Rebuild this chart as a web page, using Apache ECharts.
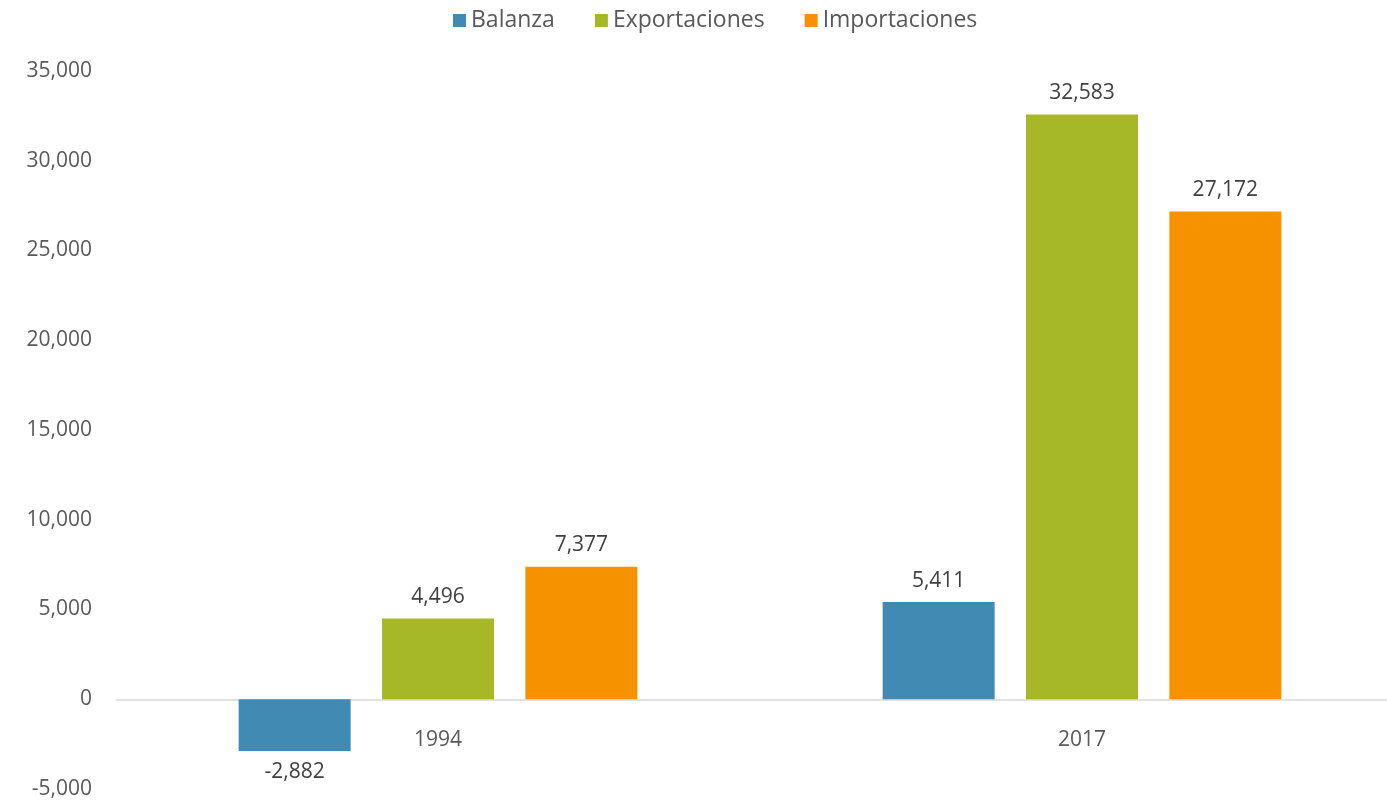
<!DOCTYPE html>
<html>
<head>
<meta charset="utf-8">
<script src="https://cdn.jsdelivr.net/npm/echarts@6/dist/echarts.min.js"></script>
<style>
  html, body { margin: 0; padding: 0; background: #fff; }
  #chart { width: 1387px; height: 804px; }
</style>
</head>
<body>
<div id="chart"></div>
<script>
// datos del gráfico
const years = ['1994', '2017'];
const balanza = [-2882, 5411];
const exportaciones = [4496, 32583];
const importaciones = [7377, 27172];

const colors = { balanza: '#418AB3', export: '#A6B727', import: '#F69200' };
const font = '"Open Sans", Lato, sans-serif';

const fmt = v => v.toLocaleString('en-US');

function barSeries(name, data, color) {
    return {
        name: name,
        type: 'bar',
        barWidth: 112,
        barGap: '28%',
        itemStyle: { color: color },
        data: data.map(v => ({
            value: v,
            label: { position: v < 0 ? 'bottom' : 'top' }
        })),
        label: {
            show: true,
            distance: 11,
            color: '#404040',
            fontSize: 21,
            fontFamily: font,
            formatter: p => fmt(p.value)
        }
    };
}

const chart = echarts.init(document.getElementById('chart'));
chart.setOption({
    animation: false,
    textStyle: { fontFamily: font },
    legend: {
        top: 4,
        left: 448,
        icon: 'rect',
        itemWidth: 13,
        itemHeight: 13,
        itemGap: 40,
        textStyle: { color: '#595959', fontSize: 23, fontFamily: font }
    },
    grid: { left: 116, right: -17, top: 71, bottom: 15, containLabel: false, outerBoundsMode: 'none' },
    xAxis: {
        type: 'category',
        data: years,
        axisLine: { onZero: true, lineStyle: { color: '#d9d9d9', width: 1.5 } },
        axisTick: { show: false },
        // las etiquetas no siguen la línea del cero, se suben a mano
        axisLabel: { color: '#595959', fontSize: 21, fontFamily: font, margin: -59 }
    },
    yAxis: {
        type: 'value',
        min: -5000,
        max: 35000,
        interval: 5000,
        splitLine: { show: false },
        axisLine: { show: false },
        axisTick: { show: false },
        axisLabel: { color: '#595959', fontSize: 21, fontFamily: font, margin: 24, formatter: v => fmt(v) }
    },
    series: [
        barSeries('Balanza', balanza, colors.balanza),
        barSeries('Exportaciones', exportaciones, colors.export),
        barSeries('Importaciones', importaciones, colors.import)
    ]
});
</script>
</body>
</html>
